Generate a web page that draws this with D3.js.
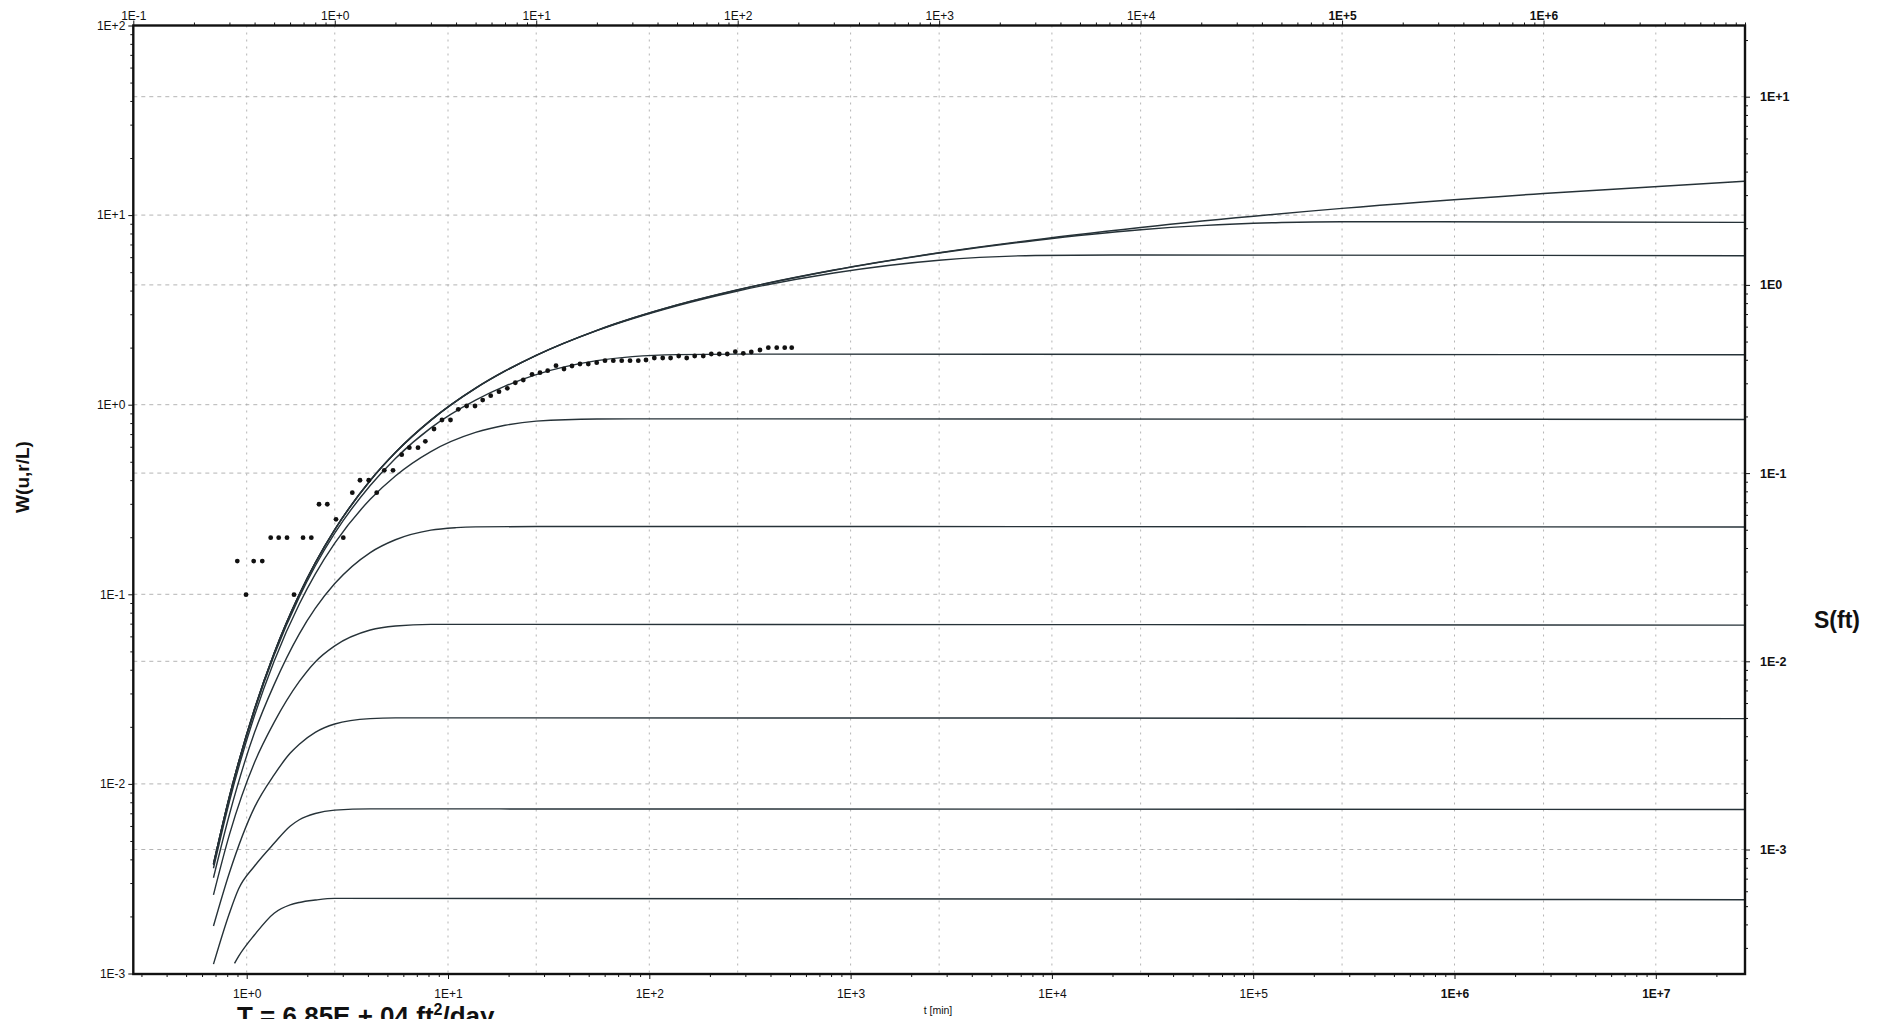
<!DOCTYPE html>
<html>
<head>
<meta charset="utf-8">
<script src="https://cdn.jsdelivr.net/npm/d3@7"></script>
<style>
  body { margin: 0; background: #fff; }
  svg text { font-family: "Liberation Sans", Arial, sans-serif; fill: #111; }
</style>
</head>
<body>
<div id="chart"></div>
<script>
// type curves, pairs of [1/u, W(u,r/L)]
var curveTheis = [[0.25, 0.00378], [0.3, 0.00859], [0.4, 0.0249], [0.5, 0.0489], [0.667, 0.100],
  [0.8, 0.1464], [1, 0.2194], [1.5, 0.3985], [2, 0.5598], [3, 0.829], [5, 1.2227], [7, 1.506],
  [10, 1.8229], [20, 2.4679], [50, 3.3547], [100, 4.0379], [300, 5.130], [1000, 6.3315],
  [1e4, 8.60], [1e5, 10.85], [1e6, 13.0], [1e7, 15.1]];
var curveRL001 = [[0.25, 0.00378], [0.3, 0.00859], [0.4, 0.0249], [0.5, 0.0489], [0.667, 0.100],
  [0.8, 0.1464], [1, 0.2194], [1.5, 0.3985], [2, 0.5598], [3, 0.829], [5, 1.2227], [7, 1.506],
  [10, 1.8229], [20, 2.4679], [50, 3.3547], [100, 4.03], [300, 5.12], [1000, 6.306],
  [3000, 7.35], [1e4, 8.37], [2e4, 8.80], [5e4, 9.14], [1e5, 9.23], [3e5, 9.22], [1e7, 9.15]];
var curveRL005 = [[0.25, 0.00378], [0.3, 0.00859], [0.4, 0.0249], [0.5, 0.0489], [0.667, 0.0999],
  [0.8, 0.1463], [1, 0.2193], [1.5, 0.398], [2, 0.559], [3, 0.827], [5, 1.219], [7, 1.501],
  [10, 1.818], [20, 2.458], [50, 3.326], [100, 3.98], [300, 4.95], [1000, 5.78], [3000, 6.12],
  [1e4, 6.16], [1e7, 6.10]];
var curveRL05 = [[0.25, 0.00373], [0.3, 0.00846], [0.4, 0.0244], [0.5, 0.0477], [0.667, 0.0969],
  [0.8, 0.141], [1, 0.210], [1.5, 0.375], [2, 0.521], [3, 0.755], [5, 1.058], [7, 1.253],
  [10, 1.441], [20, 1.707], [30, 1.792], [50, 1.837], [100, 1.848], [1e7, 1.835]];
var curveRL1 = [[0.25, 0.00359], [0.3, 0.00808], [0.4, 0.0230], [0.5, 0.0444], [0.667, 0.0889],
  [0.8, 0.1277], [1, 0.186], [1.5, 0.317], [2, 0.421], [3, 0.566], [5, 0.714], [7, 0.779],
  [10, 0.819], [20, 0.841], [30, 0.842], [1e7, 0.836]];
var curveRL2 = [[0.25, 0.0032], [0.3, 0.0069], [0.4, 0.0187], [0.5, 0.0334], [0.667, 0.0619],
  [0.8, 0.0842], [1, 0.1139], [1.5, 0.166], [2, 0.194], [3, 0.218], [4, 0.2247], [5, 0.2268],
  [10, 0.2278], [1e7, 0.2265]];
var curveRL3 = [[0.25, 0.0026], [0.3, 0.0054], [0.4, 0.0130], [0.5, 0.0211], [0.667, 0.0347],
  [0.8, 0.044], [1, 0.0535], [1.5, 0.0648], [2, 0.0681], [3, 0.0694], [1e7, 0.0688]];
var curveRL4 = [[0.25, 0.00178], [0.3, 0.0034], [0.4, 0.00754], [0.5, 0.01116], [0.6, 0.0145],
  [0.667, 0.0162], [0.8, 0.0187], [1, 0.0207], [1.5, 0.0221], [2, 0.0223], [1e7, 0.0221]];
var curveRL5 = [[0.25, 0.00112], [0.3, 0.00208], [0.333, 0.00279], [0.4, 0.00369], [0.5, 0.00486],
  [0.6, 0.00598], [0.667, 0.00647], [0.8, 0.00698], [1, 0.00727], [1.5, 0.00738], [1e7, 0.00733]];
var curveRL6 = [[0.318, 0.00113], [0.333, 0.00123], [0.4, 0.0016], [0.5, 0.00208], [0.6, 0.0023],
  [0.667, 0.00237], [0.8, 0.00244], [1, 0.00249], [1e7, 0.00245]];
var typeCurves = [curveTheis, curveRL001, curveRL005, curveRL05, curveRL1,
  curveRL2, curveRL3, curveRL4, curveRL5, curveRL6];

// observed drawdown
var tMin = [0.898, 0.992, 1.083, 1.195, 1.316, 1.442, 1.586, 1.718, 1.905, 2.094,
  2.287, 2.514, 2.777, 3.019, 3.346, 3.654, 4.037, 4.424, 4.826, 5.332,
  5.888, 6.425, 7.095, 7.716, 8.521, 9.335, 10.29, 11.25, 12.38, 13.62,
  14.87, 16.30, 17.92, 19.71, 21.60, 23.66, 26.15, 28.64, 31.28, 34.40,
  37.69, 41.30, 45.25, 49.77, 54.80, 60.25, 66.26, 72.94, 80.21, 88.17,
  96.29, 105.9, 116.6, 127.6, 140.0, 153.4, 168.1, 185.4, 203.2, 222.7,
  244.0, 267.4, 293.0, 321.1, 354.6, 390.1, 429.6, 470.7, 509.9];
var sFt = [0.0341, 0.0226, 0.0341, 0.0341, 0.0454, 0.0454, 0.0454, 0.0226, 0.0454, 0.0454,
  0.0683, 0.0683, 0.0568, 0.0454, 0.0787, 0.0916, 0.0916, 0.0787, 0.1035, 0.1035,
  0.1253, 0.1365, 0.1365, 0.1476, 0.1715, 0.1915, 0.1915, 0.2183, 0.2273, 0.2273,
  0.2445, 0.2578, 0.2707, 0.2822, 0.3021, 0.3123, 0.3350, 0.3416, 0.3500, 0.3721,
  0.3573, 0.3707, 0.3799, 0.3799, 0.3860, 0.3955, 0.3955, 0.3955, 0.3955, 0.3955,
  0.3990, 0.4089, 0.4089, 0.4089, 0.4190, 0.4089, 0.4190, 0.4190, 0.4293, 0.4293,
  0.4293, 0.4416, 0.4331, 0.4400, 0.4509, 0.4637, 0.4637, 0.4637, 0.4637];

var topTicks = [1e-1, 1e0, 1e1, 1e2, 1e3, 1e4, 1e5, 1e6];
var topLabels = ['1E-1', '1E+0', '1E+1', '1E+2', '1E+3', '1E+4', '1E+5', '1E+6'];
var bottomTicks = [1e0, 1e1, 1e2, 1e3, 1e4, 1e5, 1e6, 1e7];
var bottomLabels = ['1E+0', '1E+1', '1E+2', '1E+3', '1E+4', '1E+5', '1E+6', '1E+7'];
var leftTicks = [1e-3, 1e-2, 1e-1, 1e0, 1e1, 1e2];
var leftLabels = ['1E-3', '1E-2', '1E-1', '1E+0', '1E+1', '1E+2'];
var rightTicks = [1e-3, 1e-2, 1e-1, 1e0, 1e1];
var rightLabels = ['1E-3', '1E-2', '1E-1', '1E0', '1E+1'];

var width = 1883, height = 1019;
var plot = {left: 133.3, right: 1745, top: 25.5, bottom: 974};

var svg = d3.select('#chart').append('svg')
  .attr('width', width)
  .attr('height', height);

var xTop = d3.scaleLog().domain([0.1, 1e7]).range([plot.left, plot.right]);
var xBottom = d3.scaleLog().domain([1, 1e7]).range([246.7, 1655.8]);
var yLeft = d3.scaleLog().domain([1e-3, 1e2]).range([973.5, 25.5]);
var yRight = d3.scaleLog().domain([1e-3, 1e1]).range([849.5, 96.7]);

// the match point shifts the data axes, so they run past their labelled decades
var xBottomFull = xBottom.copy()
  .domain([xBottom.invert(plot.left), xBottom.invert(plot.right)])
  .range([plot.left, plot.right]);
var yRightFull = yRight.copy()
  .domain([yRight.invert(plot.bottom), yRight.invert(plot.top)])
  .range([plot.bottom, plot.top]);

svg.append('defs').append('clipPath')
  .attr('id', 'plotclip')
  .append('rect')
  .attr('x', plot.left)
  .attr('y', plot.top)
  .attr('width', plot.right - plot.left)
  .attr('height', plot.bottom - plot.top);

// grid
var grid = svg.append('g')
  .attr('stroke', '#ababab')
  .attr('stroke-width', 0.9);

grid.selectAll('line.vt')
  .data(topTicks.slice(1).concat([1e7]))
  .enter().append('line')
  .attr('x1', function (d) { return xTop(d); })
  .attr('x2', function (d) { return xTop(d); })
  .attr('y1', plot.top)
  .attr('y2', plot.bottom)
  .attr('stroke-dasharray', '2,5');

grid.selectAll('line.vb')
  .data(bottomTicks)
  .enter().append('line')
  .attr('x1', function (d) { return xBottom(d); })
  .attr('x2', function (d) { return xBottom(d); })
  .attr('y1', plot.top)
  .attr('y2', plot.bottom)
  .attr('stroke-dasharray', '2,5');

grid.selectAll('line.hl')
  .data(leftTicks.slice(1, -1))
  .enter().append('line')
  .attr('x1', plot.left)
  .attr('x2', plot.right)
  .attr('y1', function (d) { return yLeft(d); })
  .attr('y2', function (d) { return yLeft(d); })
  .attr('stroke-dasharray', '4,4');

grid.selectAll('line.hr')
  .data(rightTicks)
  .enter().append('line')
  .attr('x1', plot.left)
  .attr('x2', plot.right)
  .attr('y1', function (d) { return yRight(d); })
  .attr('y2', function (d) { return yRight(d); })
  .attr('stroke-dasharray', '4,4');

// type curves
var curveLine = d3.line()
  .x(function (d) { return xTop(d[0]); })
  .y(function (d) { return yLeft(d[1]); })
  .curve(d3.curveMonotoneX);

svg.append('g')
  .attr('clip-path', 'url(#plotclip)')
  .selectAll('path')
  .data(typeCurves)
  .enter().append('path')
  .attr('d', curveLine)
  .attr('fill', 'none')
  .attr('stroke', '#263238')
  .attr('stroke-width', 1.4);

// data points
svg.append('g')
  .selectAll('circle')
  .data(tMin)
  .enter().append('circle')
  .attr('cx', function (d) { return xBottom(d); })
  .attr('cy', function (d, i) { return yRight(sFt[i]); })
  .attr('r', 2.4)
  .attr('fill', '#111');

// axes
function styleAxis(g, size, weight) {
  g.select('.domain').remove();
  g.selectAll('.tick line').attr('stroke', '#111').attr('stroke-width', 1);
  g.selectAll('.tick text')
    .style('font-family', '"Liberation Sans", Arial, sans-serif')
    .style('font-size', size + 'px')
    .style('font-weight', weight)
    .attr('fill', '#111');
}

function minorTicks(scale, major) {
  return scale.ticks().filter(function (d) {
    return major.indexOf(d) < 0;
  });
}

var gTop = svg.append('g').attr('transform', 'translate(0,' + plot.top + ')');
gTop.append('g').call(d3.axisTop(xTop).tickValues(minorTicks(xTop, topTicks)).tickSize(3).tickFormat(''))
  .call(styleAxis, 12, 'normal');
gTop.append('g').call(d3.axisTop(xTop).tickValues(topTicks).tickSize(5).tickPadding(1)
  .tickFormat(function (d, i) { return topLabels[i]; }))
  .call(styleAxis, 12, 'normal');
gTop.selectAll('.tick text').style('font-weight', function (d) { return d >= 1e5 ? 'bold' : 'normal'; });

var gBottom = svg.append('g').attr('transform', 'translate(0,' + plot.bottom + ')');
gBottom.append('g').call(d3.axisBottom(xBottomFull).tickValues(minorTicks(xBottomFull, bottomTicks)).tickSize(3).tickFormat(''))
  .call(styleAxis, 12, 'normal');
gBottom.append('g').call(d3.axisBottom(xBottom).tickValues(bottomTicks).tickSize(5).tickPadding(10)
  .tickFormat(function (d, i) { return bottomLabels[i]; }))
  .call(styleAxis, 12, 'normal');
gBottom.selectAll('.tick text').style('font-weight', function (d) { return d >= 1e6 ? 'bold' : 'normal'; });

var gLeft = svg.append('g').attr('transform', 'translate(' + plot.left + ',0)');
gLeft.append('g').call(d3.axisLeft(yLeft).tickValues(minorTicks(yLeft, leftTicks)).tickSize(3).tickFormat(''))
  .call(styleAxis, 12, 'normal');
gLeft.append('g').call(d3.axisLeft(yLeft).tickValues(leftTicks).tickSize(5).tickPadding(3)
  .tickFormat(function (d, i) { return leftLabels[i]; }))
  .call(styleAxis, 12, 'normal');

var gRight = svg.append('g').attr('transform', 'translate(' + plot.right + ',0)');
gRight.append('g').call(d3.axisRight(yRightFull).tickValues(minorTicks(yRightFull, rightTicks)).tickSize(3).tickFormat(''))
  .call(styleAxis, 12, 'normal');
gRight.append('g').call(d3.axisRight(yRight).tickValues(rightTicks).tickSize(5).tickPadding(10)
  .tickFormat(function (d, i) { return rightLabels[i]; }))
  .call(styleAxis, 12.5, 'bold');

// frame
svg.append('rect')
  .attr('x', plot.left)
  .attr('y', plot.top)
  .attr('width', plot.right - plot.left)
  .attr('height', plot.bottom - plot.top)
  .attr('fill', 'none')
  .attr('stroke', '#111')
  .attr('stroke-width', 2.4);

// titles
svg.append('text')
  .attr('transform', 'translate(29,477) rotate(-90)')
  .attr('text-anchor', 'middle')
  .style('font-size', '19px')
  .style('font-weight', 'bold')
  .text('W(u,r/L)');

svg.append('text')
  .attr('x', 1837)
  .attr('y', 628)
  .attr('text-anchor', 'middle')
  .style('font-size', '23px')
  .style('font-weight', 'bold')
  .text('S(ft)');

svg.append('text')
  .attr('x', 938)
  .attr('y', 1014)
  .attr('text-anchor', 'middle')
  .style('font-size', '10.5px')
  .text('t [min]');

// sits on the lower edge of the sheet, as in the scan
var tLabel = svg.append('text')
  .attr('x', 237)
  .attr('y', 1025)
  .style('font-size', '26px')
  .style('font-weight', 'bold');
tLabel.append('tspan').text('T = 6.85E + 04 ft');
tLabel.append('tspan').attr('dy', -10).style('font-size', '16px').text('2');
tLabel.append('tspan').attr('dy', 10).text('/day');
</script>
</body>
</html>
